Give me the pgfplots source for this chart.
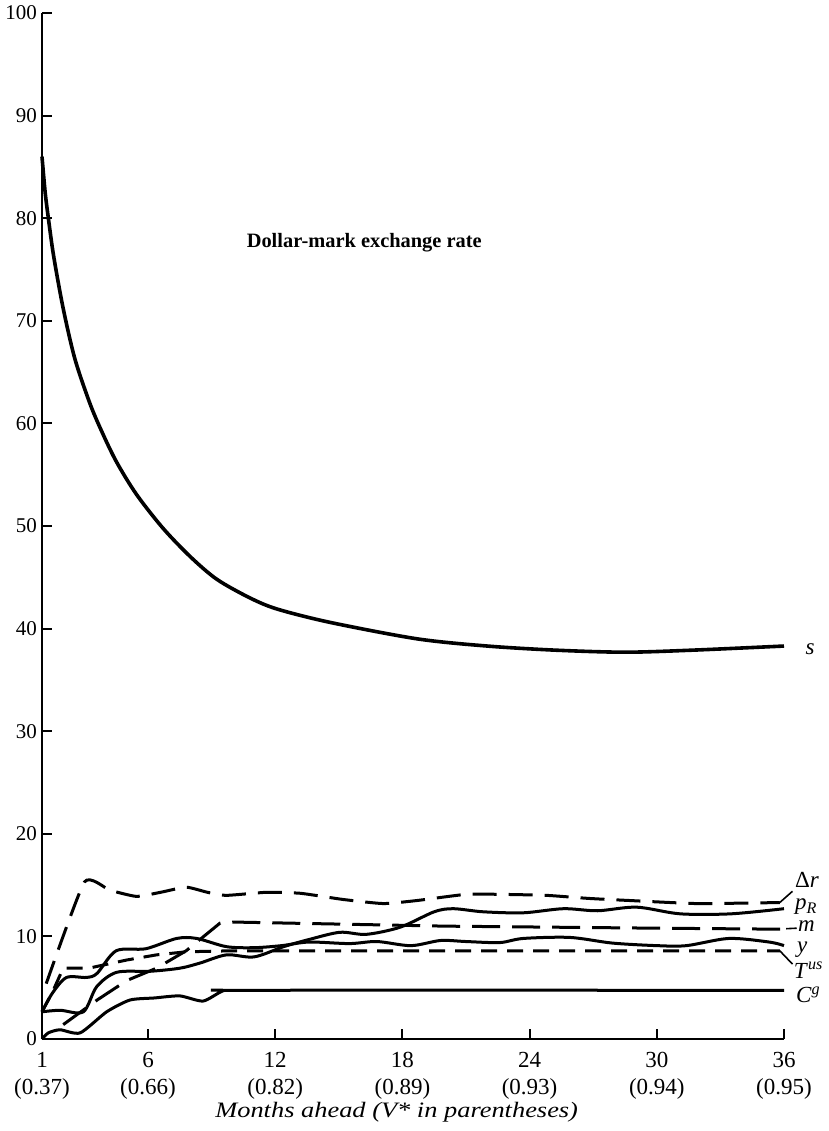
\documentclass[border=0pt]{standalone}
\usepackage{fontspec}
\setmainfont{Liberation Serif}
\newfontfamily\widefont[FakeStretch=1.2]{Liberation Serif}
\usepackage{pgfplots}
\pgfplotsset{compat=1.18}

\begin{document}
\begin{tikzpicture}
\begin{axis}[
  scale only axis, width=371pt, height=513pt,
  xmin=1, xmax=36, ymin=0, ymax=100,
  axis x line=bottom, axis y line=left,
  axis line style={-, line width=1pt},
  xtick={1,6,12,18,24,30,36},
  xticklabels={{1\\(0.37)},{6\\(0.66)},{12\\(0.82)},{18\\(0.89)},{24\\(0.93)},{30\\(0.94)},{36\\(0.95)}},
  ytick={0,10,20,30,40,50,60,70,80,90,100},
  tick align=inside, major tick length=5pt,
  tick style={line width=1pt, black},
  x tick label style={align=center, font=\fontsize{11.5}{13.5}\selectfont, yshift=-3pt},
  y tick label style={font=\fontsize{10.5}{12}\selectfont, xshift=1pt},
  /pgf/number format/assume math mode=true,
  xlabel={\widefont\itshape\fontsize{11}{13}\selectfont Months ahead (V* in parentheses)},
  every axis x label/.style={at={(axis description cs:0.478,0)}, anchor=center, yshift=-36.5pt},
  clip=false,
]
% s : exchange rate
\addplot[black, line width=1.8pt, smooth, tension=0.5] coordinates {
(1,86) (1.15,82.5) (1.3,80) (1.55,76.3) (2,71.2) (2.55,66.3) (3.25,62.0) (3.8,59.3)
(4.5,56.3) (5.45,53.1) (6.7,49.8) (8,47.0) (9.25,44.8) (10.8,43.0) (12.1,41.9)
(14.6,40.6) (18.7,39.0) (22,38.3) (25.2,37.9) (28.5,37.7) (31.7,37.9) (36,38.3)};
% Delta r
\addplot[black, line width=1.5pt, dash pattern=on 12pt off 6pt, smooth, tension=0.3] coordinates {
(1.2,5.4) (3.0,15.3) (4.2,14.5) (5.45,13.9) (6.6,14.3) (7.8,14.8) (8.8,14.3) (9.7,14.0)
(11.6,14.3) (13.2,14.2) (15.2,13.6) (17.1,13.2) (18.7,13.5) (21,14.1) (22.6,14.1)
(24.8,14.0) (26.8,13.7) (28.7,13.5) (31.9,13.2) (35.8,13.3)};
% p_R
\addplot[black, line width=1.5pt, smooth, tension=0.5] coordinates {
(1,2.65) (1.85,2.8) (2.95,2.65) (3.58,5.1) (4.52,6.5) (6.1,6.6) (7.5,6.9) (8.45,7.4)
(9.7,8.2) (11.0,8.0) (12.4,9.0) (13.6,9.7) (15.05,10.4) (16.3,10.2) (17.9,10.9)
(19.5,12.4) (20.4,12.7) (21.8,12.4) (23.7,12.3) (25.6,12.7) (27.2,12.5) (29.05,12.85)
(31.1,12.2) (33.5,12.2) (36,12.7)};
% m
\addplot[black, line width=1.5pt, dash pattern=on 14pt off 6pt] coordinates {
(2.0,1.4) (3.6,3.8) (5.0,5.7) (6.4,6.9) (7.8,8.6) (9.4,11.3) (10,11.4) (15,11.2)
(20,11.0) (25,10.9) (30,10.8) (36,10.7)};
% y
\addplot[black, line width=1.5pt, smooth, tension=0.5] coordinates {
(1,2.65) (1.5,4.5) (2.16,6.0) (3.1,6.0) (3.6,6.4) (4.5,8.6) (5.9,8.8) (7.35,9.8)
(8.3,9.8) (9.7,9.0) (11.0,8.9) (12.3,9.1) (13.6,9.45) (15.5,9.3) (16.8,9.5) (18.4,9.1)
(19.8,9.6) (21,9.5) (22.6,9.4) (23.7,9.8) (25.9,9.9) (27.9,9.35) (30,9.1) (31.4,9.1)
(33.4,9.8) (35.3,9.45) (36,9.1)};
% T^us
\addplot[black, line width=1.5pt, dash pattern=on 8pt off 5pt] coordinates {
(1,2.65) (1.5,4.6) (2.0,6.9) (3.2,6.9) (5.0,7.7) (6.4,8.2) (7.8,8.5) (10,8.6)
(20,8.6) (30,8.6) (35.8,8.6)};
% C^g
\addplot[black, line width=1.5pt, smooth, tension=0.4] coordinates {
(1,0) (1.3,0.6) (1.85,0.9) (2.8,0.6) (4.05,2.65) (5.15,3.8) (6.3,4.0) (7.5,4.2)
(8.6,3.7) (9.55,4.7) (10.5,4.75) (36,4.75)};

% leaders
\draw[line width=0.8pt] (axis cs:35.8,13.3) -- (axis cs:36.4,14.4);
\draw[line width=0.8pt] (axis cs:36.1,10.75) -- (axis cs:36.6,10.8);
\draw[line width=0.8pt] (axis cs:35.8,8.6) -- (axis cs:36.4,7.3);

% labels
\begin{scope}[every node/.style={font=\fontsize{11.5}{13}\selectfont, inner sep=0pt}]
\node[anchor=west] at (axis cs:37.0,38.0) {\textit{s}};
\node[anchor=west] at (axis cs:36.5,15.5) {Δ\textit{r}};
\node[anchor=west] at (axis cs:36.5,12.9) {\textit{p}\textsubscript{\textit{R}}};
\node[anchor=west] at (axis cs:36.65,11.0) {\textit{m}};
\node[anchor=west] at (axis cs:36.6,8.7) {\textit{y}};
\node[anchor=west] at (axis cs:36.45,6.7) {\textit{T}\textsuperscript{\textit{us}}};
\node[anchor=west] at (axis cs:36.55,4.3) {\textit{C}\textsuperscript{\textit{g}}};
\end{scope}
\node[font=\bfseries\fontsize{10.2}{12}\selectfont] at (axis cs:16.2,77.6) {Dollar-mark exchange rate};
\end{axis}
\pgfresetboundingbox
\path (-21pt,-46pt) rectangle (393.5pt,519.5pt);
\end{tikzpicture}
\end{document}
